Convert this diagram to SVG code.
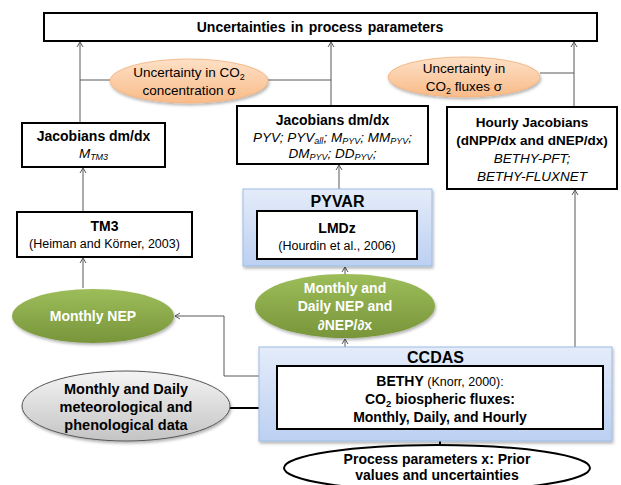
<svg xmlns="http://www.w3.org/2000/svg" width="621" height="485" viewBox="0 0 621 485">
<defs>
<style>
text{font-family:"Liberation Sans",Arial,sans-serif;font-size:13.5px;fill:#000;text-anchor:middle}
.b{font-weight:bold}
.i{font-style:italic}
.w{fill:#fff;font-weight:bold;font-size:14px}
.box{fill:#fff;stroke:#000;stroke-width:2}
.blue{fill:url(#gBlue);stroke:#9dbbe6;stroke-width:1}
.green{fill:url(#gGreen);stroke:none}
.orange{fill:url(#gOrange);stroke:#f2b07a;stroke-width:0.8}
.grey{fill:url(#gGrey);stroke:#555;stroke-width:1}
.con{fill:none;stroke:#595959;stroke-width:1}
.thick{fill:none;stroke:#000;stroke-width:2}
</style>
<linearGradient id="gBlue" x1="0" y1="0" x2="0" y2="1"><stop offset="0" stop-color="#e4ecf9"/><stop offset="1" stop-color="#bcd0f2"/></linearGradient>
<linearGradient id="gGreen" x1="0" y1="0" x2="0" y2="1"><stop offset="0" stop-color="#9dbd5a"/><stop offset="1" stop-color="#78953a"/></linearGradient>
<linearGradient id="gOrange" x1="0" y1="0" x2="0" y2="1"><stop offset="0" stop-color="#fde0c6"/><stop offset="1" stop-color="#f9bb88"/></linearGradient>
<linearGradient id="gGrey" x1="0" y1="0" x2="0" y2="1"><stop offset="0" stop-color="#f4f4f4"/><stop offset="1" stop-color="#c4c4c4"/></linearGradient>
<filter id="sh" x="-10%" y="-10%" width="130%" height="140%"><feDropShadow dx="1" dy="2" stdDeviation="1.5" flood-color="#000" flood-opacity="0.3"/></filter>
<marker id="open" markerUnits="userSpaceOnUse" markerWidth="8" markerHeight="8" refX="6" refY="4" orient="auto"><path d="M1,1 L6,4 L1,7" fill="none" stroke="#595959" stroke-width="1"/></marker>
<marker id="solid" markerUnits="userSpaceOnUse" markerWidth="10" markerHeight="10" refX="8" refY="5" orient="auto"><path d="M1,1 L8,5 L1,9" fill="none" stroke="#000" stroke-width="2"/></marker>
</defs>

<g id="connectors">
<path class="con" d="M80,123 V42" marker-end="url(#open)"/>
<path class="con" d="M110,80 H80"/>
<path class="con" d="M268,80 H331"/>
<path class="con" d="M331,106 V42" marker-end="url(#open)"/>
<path class="con" d="M540,73 H574"/>
<path class="con" d="M574,107 V42" marker-end="url(#open)"/>
<path class="con" d="M83,212 V168" marker-end="url(#open)"/>
<path class="con" d="M83,288 V258" marker-end="url(#open)"/>
<path class="con" d="M339,189 V165" marker-end="url(#open)"/>
<path class="con" d="M345,274 V267" marker-end="url(#open)"/>
<path class="con" d="M345,347 V339" marker-end="url(#open)"/>
<path class="con" d="M277,376 H224 V316 H175" marker-end="url(#open)"/>
<path class="con" d="M575,347 V190" marker-end="url(#open)"/>
<path class="thick" d="M230,408 H276" marker-end="url(#solid)"/>
<path class="thick" d="M440,445 V429" marker-end="url(#solid)"/>
</g>

<g id="top">
<rect class="box" x="44" y="13" width="553" height="28"/>
<text class="b" x="320" y="32" style="font-size:14px" word-spacing="1.5">Uncertainties in process parameters</text>
</g>

<g id="unc-conc">
<ellipse class="orange" cx="189" cy="81" rx="79" ry="22" filter="url(#sh)"/>
<text x="189" y="77">Uncertainty in CO<tspan font-size="9" dy="3">2</tspan></text>
<text x="189" y="95">concentration  σ</text>
</g>

<g id="unc-flux">
<ellipse class="orange" cx="464" cy="77" rx="76" ry="20" filter="url(#sh)"/>
<text x="464" y="73">Uncertainty in</text>
<text x="464" y="91">CO<tspan font-size="9" dy="3">2</tspan><tspan dy="-3"> fluxes σ</tspan></text>
</g>

<g id="jac-tm3">
<rect class="box" x="22" y="123" width="143" height="44"/>
<text class="b" x="93.5" y="141" style="font-size:14px">Jacobians dm/dx</text>
<text class="i" x="93.5" y="158">M<tspan font-size="9" dy="2">TM3</tspan></text>
</g>

<g id="tm3">
<rect class="box" x="17" y="212" width="175" height="45"/>
<text class="b" x="104.5" y="231" style="font-size:14px">TM3</text>
<text x="104.5" y="248" style="font-size:12.5px">(Heiman and Körner, 2003)</text>
</g>

<g id="jac-pyv">
<rect class="box" x="237" y="106" width="191" height="58"/>
<text class="b" x="332.5" y="125" style="font-size:14px">Jacobians dm/dx</text>
<text class="i" x="332.5" y="142">PYV; PYV<tspan font-size="9" dy="2">all</tspan><tspan dy="-2">; M</tspan><tspan font-size="9" dy="2">PYV</tspan><tspan dy="-2">; MM</tspan><tspan font-size="9" dy="2">PYV</tspan><tspan dy="-2">;</tspan></text>
<text class="i" x="332.5" y="158">DM<tspan font-size="9" dy="2">PYV</tspan><tspan dy="-2">; DD</tspan><tspan font-size="9" dy="2">PYV</tspan><tspan dy="-2">;</tspan></text>
</g>

<g id="hourly">
<rect class="box" x="447" y="107" width="170" height="82"/>
<text class="b" x="532" y="127">Hourly Jacobians</text>
<text class="b" x="532" y="145">(dNPP/dx and dNEP/dx)</text>
<text class="i" x="532" y="163">BETHY-PFT;</text>
<text class="i" x="532" y="181">BETHY-FLUXNET</text>
</g>

<g id="pyvar">
<rect class="blue" x="243" y="189" width="189" height="77" filter="url(#sh)"/>
<text class="b" x="337.5" y="207" style="font-size:16px">PYVAR</text>
<rect class="box" x="257" y="211" width="160" height="48"/>
<text class="b" x="337" y="233" style="font-size:14px">LMDz</text>
<text x="337" y="250" style="font-size:12.5px">(Hourdin et al., 2006)</text>
</g>

<g id="nep-daily">
<ellipse class="green" cx="345" cy="306" rx="90" ry="32" filter="url(#sh)"/>
<text class="w" x="345" y="293">Monthly and</text>
<text class="w" x="345" y="311">Daily NEP and</text>
<text class="w" x="345" y="330">∂NEP/∂x</text>
</g>

<g id="nep-monthly">
<ellipse class="green" cx="93" cy="316" rx="81" ry="27" filter="url(#sh)"/>
<text class="w" x="93" y="321">Monthly NEP</text>
</g>

<g id="ccdas">
<rect class="blue" x="259" y="347" width="353" height="94" filter="url(#sh)"/>
<text class="b" x="435.5" y="363" style="font-size:16px">CCDAS</text>
<rect class="box" x="277" y="366" width="326" height="63"/>
<text x="440" y="386"><tspan class="b" style="font-size:14px">BETHY</tspan><tspan style="font-size:12.5px">  (Knorr, 2000):</tspan></text>
<text class="b" x="440" y="404" style="font-size:14px">CO<tspan font-size="9.5" dy="3">2</tspan><tspan dy="-3"> biospheric fluxes:</tspan></text>
<text class="b" x="440" y="422" style="font-size:14px">Monthly, Daily, and Hourly</text>
</g>

<g id="met-data">
<ellipse class="grey" cx="126" cy="406" rx="104" ry="35" filter="url(#sh)"/>
<text class="b" x="126" y="394" style="font-size:14.5px">Monthly and Daily</text>
<text class="b" x="126" y="412" style="font-size:14.5px">meteorological and</text>
<text class="b" x="126" y="430" style="font-size:14.5px">phenological data</text>
</g>

<g id="params">
<ellipse class="box" cx="437" cy="468" rx="153" ry="23"/>
<text class="b" x="437" y="464" style="font-size:14px">Process parameters x: Prior</text>
<text class="b" x="437" y="480" style="font-size:14px">values and uncertainties</text>
</g>
</svg>
